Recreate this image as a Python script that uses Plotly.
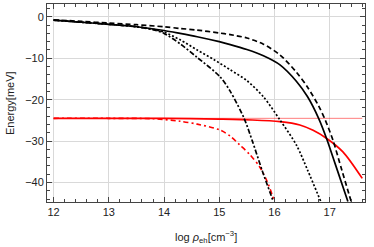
import plotly.graph_objects as go

# ---- data ----
solid_x = [12.0, 12.5, 13.0, 13.5, 14.0, 14.29, 14.6, 15.0, 15.2, 15.5, 15.8, 16.1, 16.4, 16.6, 16.8, 16.95, 17.1, 17.33]
solid_y = [-0.8, -1.3, -1.8, -2.4, -3.3, -4.0, -4.8, -6.0, -6.7, -7.9, -9.4, -11.6, -15.6, -19.3, -24.5, -29.6, -35.5, -44.6]

dashed_x = [12.0, 12.5, 13.0, 13.5, 14.0, 14.29, 14.6, 15.0, 15.2, 15.5, 15.8, 16.1, 16.4, 16.6, 16.8, 16.92, 17.06, 17.22, 17.39]
dashed_y = [-0.7, -1.1, -1.5, -1.9, -2.4, -2.8, -3.2, -3.9, -4.3, -5.1, -6.6, -9.2, -13.4, -17.0, -21.5, -24.9, -29.8, -37.0, -44.6]

dotted_x = [12.0, 12.5, 13.0, 13.5, 13.8, 14.0, 14.3, 14.6, 14.9, 15.2, 15.5, 15.8, 16.1, 16.4, 16.6, 16.84]
dotted_y = [-0.8, -1.3, -1.8, -2.4, -3.0, -3.7, -5.6, -8.0, -10.3, -12.8, -15.4, -19.3, -24.9, -31.0, -37.0, -44.6]

dashdot_x = [12.0, 12.5, 13.0, 13.5, 13.8, 14.0, 14.3, 14.6, 15.01, 15.2, 15.45, 15.6, 15.78, 15.98]
dashdot_y = [-0.8, -1.3, -1.8, -2.4, -3.1, -4.0, -6.6, -9.8, -14.4, -18.0, -24.5, -30.0, -37.2, -44.6]

red_solid_x = [12.0, 13.0, 14.0, 15.0, 15.6, 16.1, 16.46, 16.7, 16.94, 17.24, 17.59]
red_solid_y = [-24.5, -24.5, -24.5, -24.7, -24.9, -25.3, -26.1, -27.4, -29.3, -32.6, -39.0]

red_dashdot_x = [12.0, 13.0, 13.8, 14.29, 14.6, 15.01, 15.2, 15.37, 15.55, 15.73, 15.87, 16.0]
red_dashdot_y = [-24.5, -24.5, -24.6, -25.2, -25.9, -27.3, -28.8, -30.9, -33.2, -36.2, -39.8, -44.6]

red_flat_x = [12.0, 17.59]
red_flat_y = [-24.5, -24.5]

x_ticks = [12, 13, 14, 15, 16, 17]
y_ticks = [0, -10, -20, -30, -40]

fig = go.Figure()

def add(x, y, color, width, dash, opacity=1.0):
    fig.add_trace(go.Scatter(x=x, y=y, mode="lines", opacity=opacity,
                             line=dict(color=color, width=width, dash=dash, shape="spline", smoothing=0.8),
                             showlegend=False, hoverinfo="skip"))

add(red_flat_x, red_flat_y, "#ff0000", 1.0, "solid", 0.5)
add(red_dashdot_x, red_dashdot_y, "#ff0000", 1.6, "5px,3px,2px,3px")
add(red_solid_x, red_solid_y, "#ff0000", 1.7, "solid")
add(dashdot_x, dashdot_y, "#000000", 1.7, "5px,2px,2px,2px")
add(dotted_x, dotted_y, "#000000", 1.7, "2px,2px")
add(dashed_x, dashed_y, "#000000", 1.7, "5px,3px")
add(solid_x, solid_y, "#000000", 1.7, "solid")

FONT = "Liberation Sans, Arial"
axis_common = dict(
    showline=True, linecolor="#444", linewidth=1, mirror="allticks",
    ticks="inside", ticklen=5, tickwidth=1, tickcolor="#444",
    showgrid=True, gridcolor="#d9d9d9", gridwidth=1, zeroline=False,
    tickfont=dict(family=FONT, size=11, color="#222"), automargin=False,
)

fig.update_xaxes(range=[11.88, 17.64], tickvals=x_ticks, ticktext=[str(v) for v in x_ticks],
                 minor=dict(dtick=0.2, tick0=12, ticks="inside", ticklen=3, tickcolor="#444", showgrid=False),
                 **axis_common)
fig.update_yaxes(range=[-44.7, 3.1], tickvals=y_ticks, ticktext=["0", "−10", "−20", "−30", "−40"],
                 minor=dict(dtick=2, tick0=0, ticks="inside", ticklen=3, tickcolor="#444", showgrid=False),
                 **axis_common)

fig.add_annotation(text="log <i>ρ</i><sub>eh</sub>[cm<sup>−3</sup>]", xref="paper", yref="paper",
                   x=0.5, y=0, yshift=-35, xanchor="center", yanchor="middle", showarrow=False,
                   font=dict(family=FONT, size=11, color="#222"))
fig.add_annotation(text="Energy[meV]", xref="paper", yref="paper", textangle=-90,
                   x=0, xshift=-37, y=0.5, xanchor="center", yanchor="middle", showarrow=False,
                   font=dict(family=FONT, size=11, color="#222"))

fig.update_layout(width=374, height=247, margin=dict(l=47, r=9, t=4, b=45),
                  paper_bgcolor="white", plot_bgcolor="white")

fig.write_html("out.html", config={"displayModeBar": False},
               post_script="document.body.style.margin='0';document.body.style.padding='0';")
